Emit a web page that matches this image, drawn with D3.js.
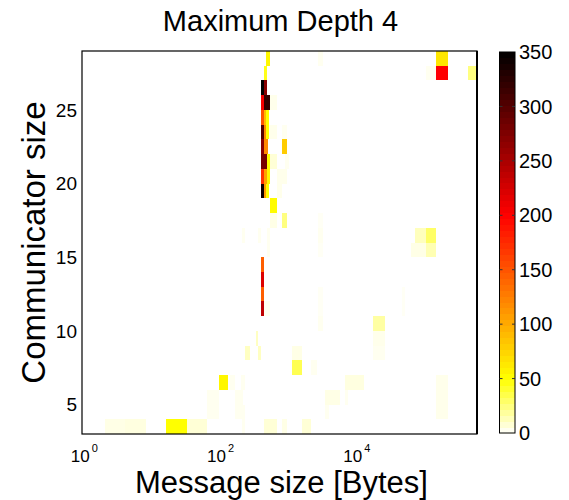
<!DOCTYPE html>

<head>
<meta charset="utf-8">
<title>Maximum Depth 4</title>
<script type="text/javascript" src="https://d3js.org/d3.v7.min.js"></script>
<style>
body { margin: 0; background: #fff; }
text { font-family: "Liberation Sans", Arial, sans-serif; fill: #000; }
</style>
</head>

<body>
<div id="container"></div>
<script>
//-----------------------------DATA-----------------------------//
const commTicks = [5, 10, 15, 20, 25];
const msgTicks = [1, 100, 10000];
const countTicks = [0, 50, 100, 150, 200, 250, 300, 350];
// [communicator size, message size from, message size to, count]
const cells = [
  [28, 470, 532, 55], [28, 2730, 3224, 3], [28, 145000, 220000, 65],
  [27, 438, 484, 45], [27, 105000, 145000, 3], [27, 145000, 220000, 200], [27, 434000, 584000, 25],
  [26, 393, 438, 350], [26, 438, 484, 270],
  [25, 393, 438, 205], [25, 438, 532, 320], [25, 532, 670, 4],
  [24, 393, 438, 150], [24, 438, 470, 90], [24, 470, 510, 50],
  [23, 393, 438, 300], [23, 438, 470, 120], [23, 470, 520, 50], [23, 520, 670, 4], [23, 790, 960, 3],
  [22, 393, 438, 270], [22, 438, 500, 120], [22, 790, 960, 80],
  [21, 393, 484, 280], [21, 484, 532, 50], [21, 532, 670, 8], [21, 900, 1000, 3],
  [20, 393, 438, 170], [20, 438, 484, 105], [20, 484, 532, 55], [20, 670, 960, 4],
  [19, 393, 438, 340], [19, 438, 470, 110], [19, 470, 520, 50], [19, 670, 790, 4],
  [18, 532, 670, 52],
  [17, 532, 670, 5], [17, 790, 960, 25], [17, 2730, 3224, 2],
  [16, 205, 229, 3], [16, 358, 393, 3], [16, 484, 532, 3], [16, 2730, 3224, 3], [16, 71000, 105000, 13], [16, 105000, 145000, 30],
  [15, 484, 532, 3], [15, 2730, 3224, 2], [15, 63600, 105000, 5], [15, 105000, 145000, 15],
  [14, 393, 438, 145],
  [13, 393, 438, 220],
  [12, 393, 438, 145], [12, 2730, 3224, 2], [12, 45600, 52000, 2],
  [11, 393, 438, 238], [11, 438, 532, 3], [11, 2730, 3224, 2], [11, 45600, 52000, 2],
  [10, 2730, 3224, 3], [10, 17600, 26450, 18],
  [9, 329, 358, 12], [9, 17600, 26450, 4],
  [8, 229, 272, 12], [8, 358, 393, 12], [8, 1103, 1576, 5], [8, 17600, 26450, 3],
  [7, 1103, 1576, 34], [7, 2162, 2647, 3],
  [6, 96, 128, 55], [6, 138, 166, 3], [6, 200, 229, 3], [6, 6680, 13000, 6], [6, 145000, 220000, 4],
  [5, 64, 96, 3], [5, 163, 216, 3], [5, 3400, 5650, 5], [5, 6680, 7500, 3], [5, 145000, 220000, 4],
  [4, 64, 96, 3], [4, 163, 229, 3], [4, 3400, 3900, 3], [4, 145000, 220000, 4],
  [3, 2, 4, 5], [3, 4, 8, 6], [3, 16, 32, 50], [3, 32, 64, 8], [3, 205, 229, 3], [3, 438, 670, 8], [3, 790, 960, 5], [3, 1576, 2162, 8]
];

//-----------------------------SVG------------------------------//
const width = 569;
const height = 500;
const plot = {left: 82, right: 477, top: 51, bottom: 434};
const bar = {left: 499.5, right: 515};

const svg = d3.select("div#container").append("svg")
    .attr("width", width)
    .attr("height", height);

//----------------------------SCALES----------------------------//
const x = d3.scaleLog().domain([0.925, 584000]).range([plot.left, plot.right]);
const y = d3.scaleLinear().domain([3, 29]).range([plot.bottom, plot.top]);
const color = d3.scaleLinear()
    .domain([0, 50, 200, 350])
    .range(["#ffffff", "#ffff00", "#ff0000", "#000000"])
    .clamp(true);
const cb = d3.scaleLinear().domain([0, 350]).range([plot.bottom - 1, plot.top + 1]);

//-----------------------------CELLS----------------------------//
svg.append("rect")
    .attr("x", plot.left).attr("y", plot.top)
    .attr("width", plot.right - plot.left)
    .attr("height", plot.bottom - plot.top)
    .attr("fill", "#fff");

svg.append("g")
    .selectAll("rect")
    .data(cells)
    .enter()
    .append("rect")
    .attr("x", d => x(d[1]))
    .attr("y", d => y(d[0] + 1))
    .attr("width", d => x(d[2]) - x(d[1]))
    .attr("height", d => y(d[0]) - y(d[0] + 1))
    .attr("fill", d => color(d[3]))
    .attr("shape-rendering", "crispEdges");

// frame
svg.append("rect")
    .attr("x", plot.left).attr("y", plot.top)
    .attr("width", plot.right - plot.left)
    .attr("height", plot.bottom - plot.top)
    .attr("fill", "none")
    .attr("stroke", "#000")
    .attr("stroke-width", 1.2);
svg.append("line")
    .attr("x1", plot.right).attr("x2", plot.right)
    .attr("y1", plot.top).attr("y2", plot.bottom)
    .attr("stroke", "#000")
    .attr("stroke-width", 2);

//-----------------------------AXES-----------------------------//
svg.append("g")
    .selectAll("text")
    .data(commTicks)
    .enter()
    .append("text")
    .attr("x", plot.left - 5)
    .attr("y", d => y(d))
    .attr("dy", "0.36em")
    .attr("text-anchor", "end")
    .style("font-size", "19px")
    .text(d => d);

// 10^k labels: base and exponent as two texts, centred together on the tick
const xt = svg.append("g");
xt.selectAll("text.base")
    .data(msgTicks)
    .enter()
    .append("text")
    .attr("class", "base")
    .attr("x", d => x(d) - 13.5)
    .attr("y", 462)
    .style("font-size", "17px")
    .text("10");
xt.selectAll("text.exp")
    .data(msgTicks)
    .enter()
    .append("text")
    .attr("class", "exp")
    .attr("x", d => x(d) + 7.5)
    .attr("y", 452)
    .style("font-size", "11px")
    .text(d => Math.round(Math.log10(d)));

svg.append("text")
    .attr("x", (plot.left + plot.right) / 2 + 2)
    .attr("y", 493)
    .attr("text-anchor", "middle")
    .style("font-size", "31px")
    .text("Message size [Bytes]");

svg.append("text")
    .attr("transform", "translate(45," + ((plot.top + plot.bottom) / 2) + ") rotate(-90)")
    .attr("text-anchor", "middle")
    .style("font-size", "33px")
    .text("Communicator size");

svg.append("text")
    .attr("x", (plot.left + plot.right) / 2 + 1)
    .attr("y", 31)
    .attr("text-anchor", "middle")
    .style("font-size", "29px")
    .text("Maximum Depth 4");

//---------------------------COLORBAR---------------------------//
const nLevels = 64;
const levels = d3.range(nLevels);
const step = 350 / nLevels;

svg.append("g")
    .selectAll("rect")
    .data(levels)
    .enter()
    .append("rect")
    .attr("x", bar.left)
    .attr("y", d => cb((d + 1) * step))
    .attr("width", bar.right - bar.left)
    .attr("height", d => cb(d * step) - cb((d + 1) * step) + 0.5)
    .attr("fill", d => color((d + 0.5) * step))
    .attr("shape-rendering", "crispEdges");

svg.append("rect")
    .attr("x", bar.left).attr("y", plot.top + 1)
    .attr("width", bar.right - bar.left)
    .attr("height", plot.bottom - plot.top - 2)
    .attr("fill", "none")
    .attr("stroke", "#000")
    .attr("stroke-width", 1);

const cbt = svg.append("g");
cbt.selectAll("line.l")
    .data(countTicks.slice(1, -1))
    .enter()
    .append("line")
    .attr("x1", bar.left).attr("x2", bar.left + 3)
    .attr("y1", d => cb(d)).attr("y2", d => cb(d))
    .attr("stroke", "#333");
cbt.selectAll("line.r")
    .data(countTicks.slice(1, -1))
    .enter()
    .append("line")
    .attr("x1", bar.right - 3).attr("x2", bar.right)
    .attr("y1", d => cb(d)).attr("y2", d => cb(d))
    .attr("stroke", "#333");
cbt.selectAll("text")
    .data(countTicks)
    .enter()
    .append("text")
    .attr("x", bar.right + 4)
    .attr("y", d => cb(d))
    .attr("dy", "0.36em")
    .style("font-size", "20px")
    .text(d => d);
</script>
</body>
